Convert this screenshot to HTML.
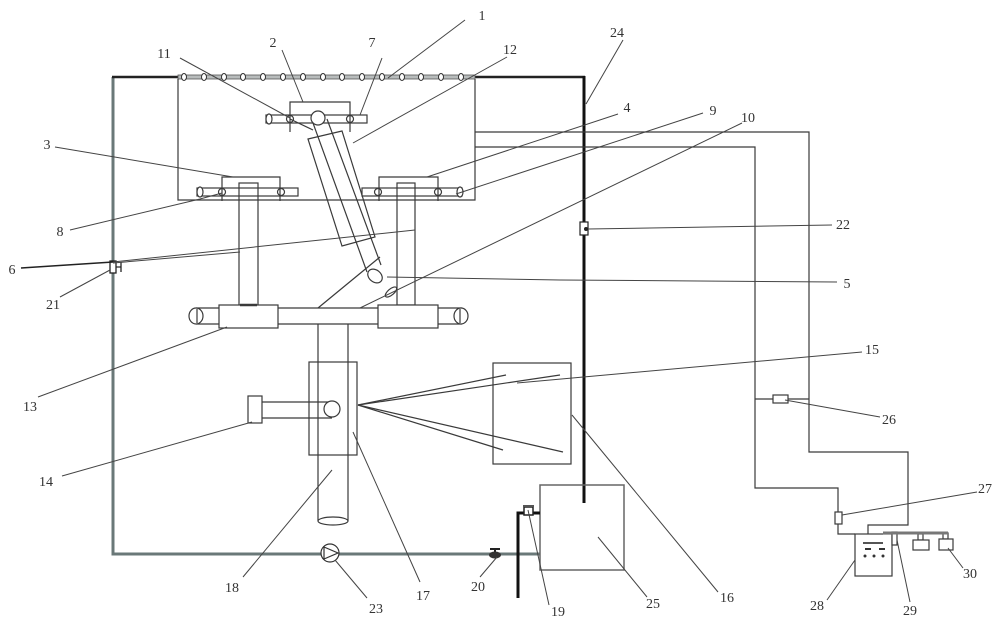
<!DOCTYPE html>
<html>
<head>
<meta charset="utf-8">
<style>
html,body{margin:0;padding:0;background:#fff;}
svg{display:block;}
text{font-family:"Liberation Serif",serif;font-size:14px;fill:#333;text-anchor:middle;}
</style>
</head>
<body>
<svg width="1000" height="623" viewBox="0 0 1000 623" xmlns="http://www.w3.org/2000/svg">
<rect width="1000" height="623" fill="#fff"/>

<!-- outer frame -->
<polyline points="113,77 113,554 540,554" fill="none" stroke="#6a7878" stroke-width="3"/>
<line x1="112" y1="77" x2="178" y2="77" stroke="#222" stroke-width="2.5"/>
<line x1="475" y1="77" x2="585" y2="77" stroke="#222" stroke-width="2.5"/>
<line x1="584" y1="76" x2="584" y2="503" stroke="#111" stroke-width="3"/>
<!-- spray bar -->
<rect x="178" y="75" width="297" height="4" fill="#b8bcbc" stroke="#555" stroke-width="0.8"/>
<g fill="#fff" stroke="#333" stroke-width="1">
<ellipse cx="184" cy="77" rx="2.5" ry="3.5"/><ellipse cx="204" cy="77" rx="2.5" ry="3.5"/>
<ellipse cx="224" cy="77" rx="2.5" ry="3.5"/><ellipse cx="243" cy="77" rx="2.5" ry="3.5"/>
<ellipse cx="263" cy="77" rx="2.5" ry="3.5"/><ellipse cx="283" cy="77" rx="2.5" ry="3.5"/>
<ellipse cx="303" cy="77" rx="2.5" ry="3.5"/><ellipse cx="323" cy="77" rx="2.5" ry="3.5"/>
<ellipse cx="342" cy="77" rx="2.5" ry="3.5"/><ellipse cx="362" cy="77" rx="2.5" ry="3.5"/>
<ellipse cx="382" cy="77" rx="2.5" ry="3.5"/><ellipse cx="402" cy="77" rx="2.5" ry="3.5"/>
<ellipse cx="421" cy="77" rx="2.5" ry="3.5"/><ellipse cx="441" cy="77" rx="2.5" ry="3.5"/>
<ellipse cx="461" cy="77" rx="2.5" ry="3.5"/>
</g>

<g fill="none" stroke="#3a3a3a" stroke-width="1.2">
<!-- inner box -->
<polyline points="178,79 178,200 475,200 475,79"/>

<!-- bracket 2 and rod -->
<polyline points="290,132 290,102 350,102 350,132"/>
<rect x="266" y="115" width="101" height="8"/>
<ellipse cx="269" cy="119" rx="3" ry="5" fill="#fff"/>
<circle cx="290" cy="119" r="3.5"/>
<circle cx="350" cy="119" r="3.5"/>
<circle cx="318" cy="118" r="7" fill="#fff"/>
<line x1="290" y1="119" x2="313" y2="130"/>

<!-- bracket 3 left -->
<polyline points="222,201 222,177 280,177 280,201"/>
<rect x="197" y="188" width="101" height="8"/>
<ellipse cx="200" cy="192" rx="3" ry="5" fill="#fff"/>
<circle cx="222" cy="192" r="3.5"/>
<circle cx="281" cy="192" r="3.5"/>
<rect x="239" y="183" width="19" height="122"/>

<!-- bracket 4 right -->
<polyline points="379,201 379,177 438,177 438,201"/>
<rect x="362" y="188" width="100" height="8"/>
<ellipse cx="460" cy="192" rx="3" ry="5" fill="#fff"/>
<circle cx="378" cy="192" r="3.5"/>
<circle cx="438" cy="192" r="3.5"/>
<rect x="397" y="183" width="18" height="122"/>

<!-- tube 12 -->
<polygon points="308,139 342,131 375,237 342,246"/>
<line x1="313" y1="123" x2="367" y2="272"/>
<line x1="327" y1="119" x2="381" y2="265"/>
<ellipse cx="375" cy="276" rx="8" ry="6" transform="rotate(40 375 276)" fill="#fff"/>
<ellipse cx="391" cy="292" rx="7" ry="3" transform="rotate(-40 391 292)" fill="#fff"/>
<line x1="318" y1="308" x2="380" y2="257"/>

<!-- beam 13 -->
<line x1="196" y1="308" x2="462" y2="308"/>
<line x1="196" y1="324" x2="462" y2="324"/>
<ellipse cx="196" cy="316" rx="7" ry="8" fill="#fff"/>
<line x1="197" y1="309" x2="197" y2="323"/>
<ellipse cx="461" cy="316" rx="7" ry="8" fill="#fff"/>
<line x1="460" y1="309" x2="460" y2="323"/>
<rect x="219" y="305" width="59" height="23" fill="#fff"/>
<rect x="378" y="305" width="60" height="23" fill="#fff"/>
<line x1="240" y1="305" x2="257" y2="305" stroke-width="2.5"/>

<!-- column 18 -->
<line x1="318" y1="324" x2="318" y2="521"/>
<line x1="348" y1="324" x2="348" y2="521"/>
<ellipse cx="333" cy="521" rx="15" ry="4"/>
<!-- rect 17 -->
<rect x="309" y="362" width="48" height="93"/>

<!-- part 14 -->
<rect x="248" y="396" width="14" height="27"/>
<line x1="262" y1="402" x2="332" y2="402"/>
<line x1="262" y1="418" x2="332" y2="418"/>
<circle cx="332" cy="409" r="8" fill="#fff"/>

<!-- spray lines -->
<line x1="358" y1="405" x2="506" y2="375"/>
<line x1="358" y1="405" x2="560" y2="375"/>
<line x1="358" y1="405" x2="503" y2="450"/>
<line x1="358" y1="405" x2="563" y2="452"/>
<!-- rect 16 -->
<rect x="493" y="363" width="78" height="101"/>

<!-- right circuit lines -->
<polyline points="475,132 809,132 809,452 908,452 908,525 868,525 868,534"/>
<polyline points="475,147 755,147 755,488 838,488 838,534 855,534"/>
<line x1="755" y1="399" x2="773" y2="399"/>
<line x1="788" y1="399" x2="809" y2="399"/>
<rect x="773" y="395" width="15" height="8" fill="#fff"/>
<rect x="835" y="512" width="7" height="12" fill="#fff"/>

<!-- box 28 -->
<rect x="855" y="534" width="37" height="42" fill="#fff"/>
<rect x="892" y="532" width="5" height="13" fill="#fff"/>
<!-- bottles 30 -->
<rect x="918" y="534" width="5" height="6"/>
<rect x="913" y="540" width="16" height="10" fill="#fff"/>
<rect x="943" y="533" width="5" height="6"/>
<rect x="939" y="539" width="14" height="11" fill="#fff"/>

<!-- tank 25 -->
<rect x="540" y="485" width="84" height="85" stroke="#666" stroke-width="1.5"/>
</g>

<!-- box 28 details -->
<line x1="863" y1="543" x2="883" y2="543" stroke="#555" stroke-width="2"/>
<line x1="865" y1="549" x2="871" y2="549" stroke="#333" stroke-width="2"/>
<line x1="879" y1="549" x2="885" y2="549" stroke="#333" stroke-width="2"/>
<circle cx="865" cy="556" r="1.5" fill="#333"/>
<circle cx="874" cy="556" r="1.5" fill="#333"/>
<circle cx="883" cy="556" r="1.5" fill="#333"/>
<line x1="883" y1="533" x2="948" y2="533" stroke="#777" stroke-width="3"/>

<!-- pipe 19 -->
<polyline points="518,598 518,513 540,513" fill="none" stroke="#111" stroke-width="3"/>
<rect x="524" y="507" width="9" height="8" fill="#fff" stroke="#222" stroke-width="1.5"/>
<line x1="523" y1="506" x2="534" y2="506" stroke="#555" stroke-width="2"/>

<!-- valve 22 -->
<rect x="580" y="222" width="8" height="13" fill="#fff" stroke="#222" stroke-width="1.2"/>
<circle cx="586" cy="229" r="2" fill="#222"/>

<!-- valve 20 -->
<line x1="490" y1="549" x2="500" y2="549" stroke="#222" stroke-width="2"/>
<line x1="495" y1="549" x2="495" y2="553" stroke="#222" stroke-width="2"/>
<ellipse cx="495" cy="555" rx="6" ry="3.5" fill="#333"/>

<!-- pump 23 -->
<circle cx="330" cy="553" r="9" fill="#fff" stroke="#333" stroke-width="1.2"/>
<polygon points="324,547 338,553 324,559" fill="none" stroke="#333" stroke-width="1.2"/>

<!-- valve 21 -->
<rect x="110" y="261" width="6" height="12" fill="#fff" stroke="#222" stroke-width="1.3"/>
<line x1="116" y1="267" x2="121" y2="267" stroke="#222" stroke-width="1.2"/>
<line x1="121" y1="262" x2="121" y2="272" stroke="#222" stroke-width="1.3"/>

<!-- leader lines -->
<g stroke="#444" stroke-width="1" fill="none">
<line x1="465" y1="20" x2="388" y2="78"/>
<line x1="623" y1="40" x2="586" y2="104"/>
<line x1="507" y1="57" x2="353" y2="143"/>
<line x1="282" y1="50" x2="303" y2="102"/>
<line x1="382" y1="58" x2="360" y2="115"/>
<line x1="180" y1="58" x2="290" y2="118"/>
<line x1="618" y1="114" x2="427" y2="177"/>
<line x1="703" y1="113" x2="456" y2="194"/>
<line x1="742" y1="123" x2="360" y2="308"/>
<line x1="55" y1="147" x2="233" y2="177"/>
<polyline points="70,230 200,199 222,193"/>
<line x1="21" y1="268" x2="113" y2="262" stroke="#222" stroke-width="1.6"/>
<line x1="113" y1="262" x2="415" y2="230"/>
<line x1="113" y1="263" x2="240" y2="252"/>
<line x1="60" y1="297" x2="110" y2="270"/>
<polyline points="837,282 560,280 387,277"/>
<line x1="832" y1="225" x2="588" y2="229"/>
<line x1="862" y1="352" x2="517" y2="383"/>
<line x1="38" y1="397" x2="227" y2="327"/>
<line x1="62" y1="476" x2="252" y2="422"/>
<line x1="785" y1="400" x2="880" y2="417"/>
<line x1="977" y1="492" x2="842" y2="515"/>
<line x1="243" y1="577" x2="332" y2="470"/>
<line x1="367" y1="598" x2="335" y2="560"/>
<line x1="420" y1="582" x2="353" y2="432"/>
<line x1="480" y1="577" x2="497" y2="557"/>
<line x1="549" y1="605" x2="528" y2="510"/>
<line x1="647" y1="597" x2="598" y2="537"/>
<line x1="718" y1="592" x2="572" y2="415"/>
<line x1="827" y1="600" x2="855" y2="560"/>
<line x1="910" y1="602" x2="897" y2="540"/>
<line x1="963" y1="568" x2="948" y2="548"/>
</g>

<!-- labels -->
<text x="482" y="20">1</text>
<text x="617" y="37">24</text>
<text x="510" y="54">12</text>
<text x="273" y="47">2</text>
<text x="372" y="47">7</text>
<text x="164" y="58">11</text>
<text x="627" y="112">4</text>
<text x="713" y="115">9</text>
<text x="748" y="122">10</text>
<text x="47" y="149">3</text>
<text x="843" y="229">22</text>
<text x="60" y="236">8</text>
<text x="12" y="274">6</text>
<text x="53" y="309">21</text>
<text x="847" y="288">5</text>
<text x="30" y="411">13</text>
<text x="872" y="354">15</text>
<text x="46" y="486">14</text>
<text x="889" y="424">26</text>
<text x="985" y="493">27</text>
<text x="232" y="592">18</text>
<text x="376" y="613">23</text>
<text x="423" y="600">17</text>
<text x="478" y="591">20</text>
<text x="558" y="616">19</text>
<text x="653" y="608">25</text>
<text x="727" y="602">16</text>
<text x="817" y="610">28</text>
<text x="910" y="615">29</text>
<text x="970" y="578">30</text>
</svg>
</body>
</html>
